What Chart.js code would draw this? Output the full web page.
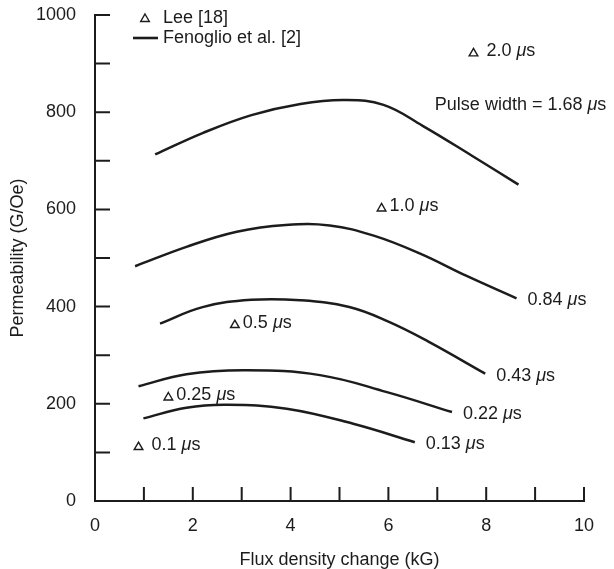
<!DOCTYPE html>
<html>
<head>
<meta charset="utf-8">
<script src="https://cdn.jsdelivr.net/npm/chart.js@4"></script>
<style>
  html, body { margin: 0; padding: 0; background: #fff; }
  canvas { display: block; }
</style>
</head>
<body>
<canvas id="chart" width="614" height="569"></canvas>
<script>
// Fenoglio et al. [2] curves, one per pulse width (x in kG, y in G/Oe)
const fenoglio168X = [1.23, 2.2, 3.2, 4.2, 5.1, 5.9, 6.7, 7.7, 8.66];
const fenoglio168Y = [713, 757, 794, 817, 825, 815, 772, 711, 651];

const fenoglio084X = [0.82, 1.87, 2.90, 3.90, 4.80, 5.70, 6.65, 7.60, 8.62];
const fenoglio084Y = [483, 523, 554, 568, 567, 546, 509, 463, 417];

const fenoglio043X = [1.33, 2.2, 3.2, 4.2, 5.2, 6.0, 6.8, 7.98];
const fenoglio043Y = [365, 399, 414, 413, 399, 369, 329, 262];

const fenoglio022X = [0.89, 1.87, 3.10, 4.60, 5.97, 7.30];
const fenoglio022Y = [236, 261, 269, 259, 224, 183];

const fenoglio013X = [0.99, 1.87, 2.69, 3.92, 5.28, 6.54];
const fenoglio013Y = [170, 192, 198, 190, 159, 121];

const curveLabels = ['1.68', '0.84', '0.43', '0.22', '0.13'];

// Lee [18] single measurements
const leeX = [0.89, 1.50, 2.86, 5.86, 7.74];
const leeY = [111, 213, 362, 602, 921];
const leeLabels = [' 0.1', '0.25', '0.5', '1.0', ' 2.0'];

const ink = '#1c1c1c';
const font = '"Liberation Sans", Arial, sans-serif';

function toPoints(xs, ys) {
    return xs.map((x, i) => ({ x: x, y: ys[i] }));
}

function curve(xs, ys) {
    return {
        data: toPoints(xs, ys),
        showLine: true,
        borderColor: ink,
        borderWidth: 2.5,
        pointRadius: 0,
        tension: 0.4,
        fill: false
    };
}

// "0.84 µs" with the mu in italics
function drawMicro(ctx, value, px, py) {
    ctx.textBaseline = 'middle';
    ctx.textAlign = 'left';
    ctx.font = '18px ' + font;
    const head = value + ' ';
    ctx.fillText(head, px, py);
    px += ctx.measureText(head).width;
    ctx.font = 'italic 18px ' + font;
    ctx.fillText('\u03bc', px, py);
    px += ctx.measureText('\u03bc').width;
    ctx.font = '18px ' + font;
    ctx.fillText('s', px, py);
}

const overlay = {
    id: 'overlay',
    afterDraw(chart) {
        const ctx = chart.ctx;
        const area = chart.chartArea;
        const x = chart.scales.x;
        const y = chart.scales.y;
        ctx.save();
        ctx.strokeStyle = ink;
        ctx.fillStyle = ink;
        ctx.lineWidth = 2;

        // tick marks point into the plot
        ctx.beginPath();
        for (let v = 1; v <= 10; v++) {
            const px = x.getPixelForValue(v);
            ctx.moveTo(px, area.bottom);
            ctx.lineTo(px, area.bottom - 14);
        }
        for (let v = 100; v <= 1000; v += 100) {
            const py = y.getPixelForValue(v);
            ctx.moveTo(area.left, py);
            ctx.lineTo(area.left + 15, py);
        }
        ctx.stroke();

        // pulse width labels at the right end of each curve
        const ends = [fenoglio084X, fenoglio043X, fenoglio022X, fenoglio013X];
        const endYs = [fenoglio084Y, fenoglio043Y, fenoglio022Y, fenoglio013Y];
        ends.forEach((xs, i) => {
            const last = xs.length - 1;
            const px = x.getPixelForValue(xs[last]) + 11;
            const py = y.getPixelForValue(endYs[i][last]) + 2;
            drawMicro(ctx, curveLabels[i + 1], px, py);
        });
        drawMicro(ctx, 'Pulse width = ' + curveLabels[0], x.getPixelForValue(6.95), y.getPixelForValue(815));

        // Lee point labels
        leeX.forEach((v, i) => {
            drawMicro(ctx, leeLabels[i], x.getPixelForValue(v) + 8, y.getPixelForValue(leeY[i]) - 2);
        });

        // key
        ctx.fillStyle = '#fff';
        ctx.lineWidth = 1.4;
        Chart.helpers.drawPoint(ctx, {
            pointStyle: 'triangle', radius: 5, borderWidth: 1.4
        }, 145, 19);
        ctx.beginPath();
        ctx.lineWidth = 2.6;
        ctx.moveTo(133, 38);
        ctx.lineTo(158, 38);
        ctx.stroke();
        ctx.fillStyle = ink;
        ctx.font = '18px ' + font;
        ctx.textAlign = 'left';
        ctx.textBaseline = 'middle';
        ctx.fillText('Lee [18]', 163, 18);
        ctx.fillText('Fenoglio et al. [2]', 163, 38);
        ctx.restore();
    }
};

new Chart(document.getElementById('chart'), {
    type: 'scatter',
    data: {
        datasets: [
            curve(fenoglio168X, fenoglio168Y),
            curve(fenoglio084X, fenoglio084Y),
            curve(fenoglio043X, fenoglio043Y),
            curve(fenoglio022X, fenoglio022Y),
            curve(fenoglio013X, fenoglio013Y),
            {
                data: toPoints(leeX, leeY),
                pointStyle: 'triangle',
                pointRadius: 5,
                borderWidth: 1.4,
                borderColor: ink,
                backgroundColor: '#fff'
            }
        ]
    },
    options: {
        responsive: false,
        animation: false,
        layout: { padding: { top: 15, right: 30, left: 0, bottom: 0 } },
        plugins: {
            legend: { display: false },
            tooltip: { enabled: false }
        },
        scales: {
            x: {
                type: 'linear',
                min: 0,
                max: 10,
                grid: { display: false },
                border: { display: true, color: ink, width: 2 },
                ticks: { stepSize: 2, padding: 6, color: ink, font: { family: font, size: 18 } },
                title: {
                    display: true,
                    text: 'Flux density change (kG)',
                    color: ink,
                    padding: 0,
                    font: { family: font, size: 18, lineHeight: 1 }
                },
                afterFit(scale) { scale.height = 68; }
            },
            y: {
                type: 'linear',
                min: 0,
                max: 1000,
                grid: { display: false },
                border: { display: true, color: ink, width: 2 },
                ticks: {
                    stepSize: 200,
                    padding: 11,
                    color: ink,
                    font: { family: font, size: 18 },
                    callback: (v) => String(v)
                },
                title: {
                    display: true,
                    text: 'Permeability (G/Oe)',
                    color: ink,
                    padding: { top: 9, bottom: 0 },
                    font: { family: font, size: 18, lineHeight: 1 }
                },
                afterFit(scale) {
                    scale.width = 95;
                    scale.paddingTop = 0;
                    scale.paddingBottom = 0;
                }
            }
        }
    },
    plugins: [overlay]
});
</script>
</body>
</html>
